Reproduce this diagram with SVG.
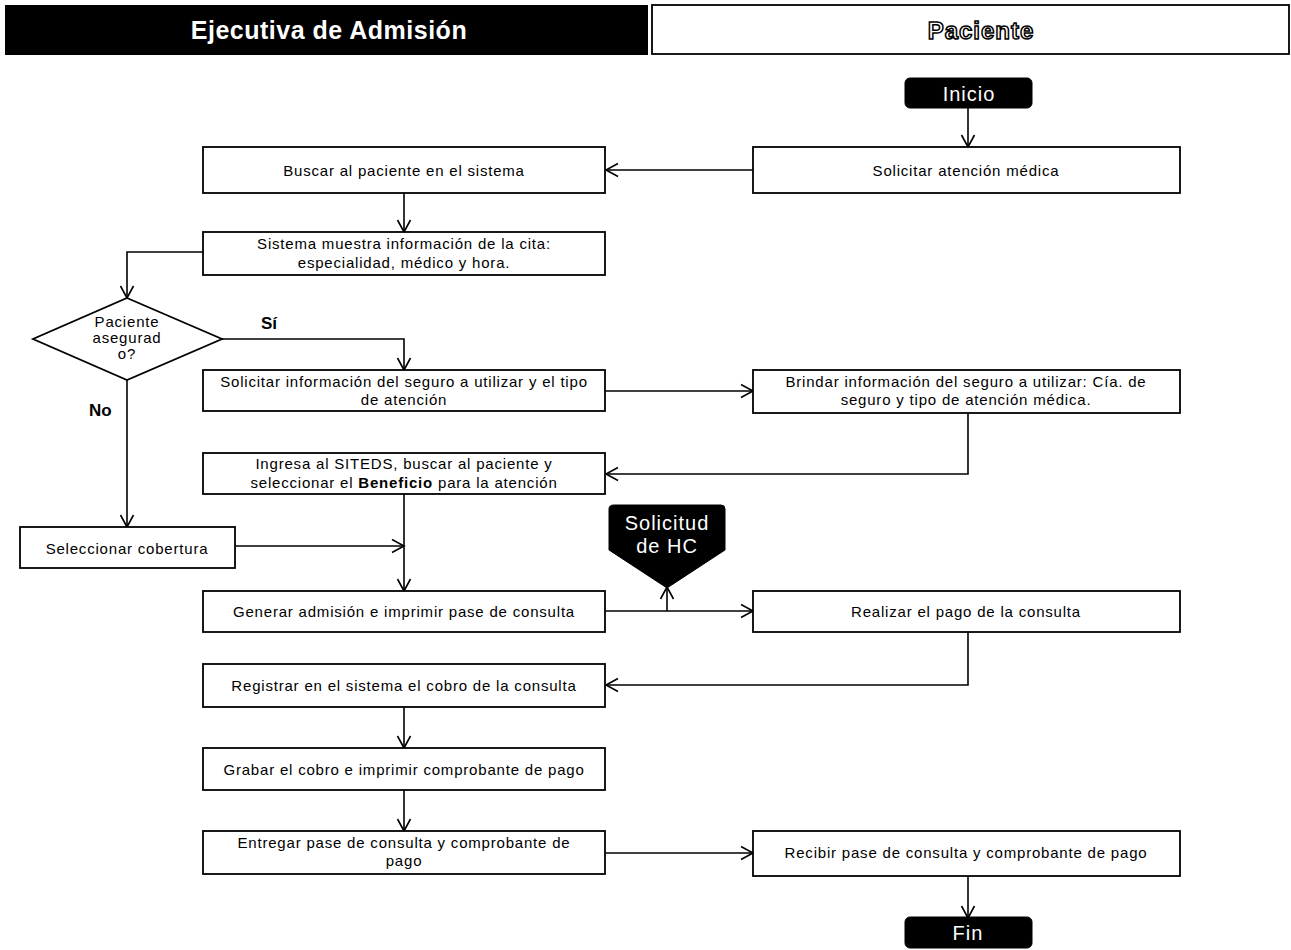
<svg xmlns="http://www.w3.org/2000/svg" width="1291" height="950" viewBox="0 0 1291 950">
  <style>
    .box { fill: #fff; stroke: #000; stroke-width: 1.8; }
    .term { fill: #000; stroke: #000; }
    .t { font-family: "Liberation Sans", Arial, sans-serif; font-size: 15px; letter-spacing: 0.8px; fill: #000; text-anchor: middle; }
    .tw { font-family: "Liberation Sans", Arial, sans-serif; font-size: 20px; letter-spacing: 1px; fill: #fff; text-anchor: middle; }
    .lbl { font-family: "Liberation Sans", Arial, sans-serif; font-size: 17px; font-weight: bold; fill: #000; }
    .edge { fill: none; stroke: #000; stroke-width: 1.6; marker-end: url(#arrow); }
  </style>
  <defs>
    <marker id="arrow" markerUnits="userSpaceOnUse" markerWidth="16" markerHeight="16" viewBox="0 0 16 16" refX="14" refY="8" orient="auto">
      <path d="M2,1.5 L14,8 L2,14.5" fill="none" stroke="#000" stroke-width="1.6"/>
    </marker>
  </defs>

  <rect width="1291" height="950" fill="#fff"/>

  <!-- Lane headers -->
  <g id="lane-ejecutiva">
    <rect x="5" y="5" width="643" height="50" fill="#000"/>
    <text x="329" y="39" font-family="Liberation Sans, Arial, sans-serif" font-size="25" font-weight="bold" letter-spacing="0.5" fill="#fff" text-anchor="middle">Ejecutiva de Admisión</text>
  </g>
  <g id="lane-paciente">
    <rect x="652" y="5" width="637" height="49" fill="#fff" stroke="#000" stroke-width="1.8"/>
    <text x="981" y="39" font-family="Liberation Sans, Arial, sans-serif" font-size="24" font-weight="bold" letter-spacing="1" fill="#fff" stroke="#000" stroke-width="1.5" text-anchor="middle">Paciente</text>
  </g>

  <!-- Connectors -->
  <g id="connectors">
    <path class="edge" d="M968,108 V147"/>
    <path class="edge" d="M753,170 H606"/>
    <path class="edge" d="M404,193 V232"/>
    <path class="edge" d="M203,252 H127 V298"/>
    <path class="edge" d="M222,339 H404 V370"/>
    <path class="edge" d="M605,391 H753"/>
    <path class="edge" d="M968,413 V474 H606"/>
    <path class="edge" d="M127,380 V527"/>
    <path class="edge" d="M404,494 V591"/>
    <path class="edge" d="M235,546 H404"/>
    <path class="edge" d="M605,611 H753"/>
    <path class="edge" d="M667,611 V587"/>
    <path class="edge" d="M968,632 V685 H606"/>
    <path class="edge" d="M404,707 V748"/>
    <path class="edge" d="M404,790 V831"/>
    <path class="edge" d="M605,853 H753"/>
    <path class="edge" d="M968,876 V918"/>
    <text class="lbl" x="261" y="329">Sí</text>
    <text class="lbl" x="89" y="416">No</text>
  </g>

  <!-- Nodes -->
  <g id="inicio">
    <rect class="term" x="905" y="78" width="127" height="30" rx="5"/>
    <text class="tw" x="969" y="101">Inicio</text>
  </g>

  <g id="buscar">
    <rect class="box" x="203" y="147" width="402" height="46"/>
    <text class="t" x="404" y="176">Buscar al paciente en el sistema</text>
  </g>

  <g id="solicitar-atencion">
    <rect class="box" x="753" y="147" width="427" height="46"/>
    <text class="t" x="966" y="176">Solicitar atención médica</text>
  </g>

  <g id="sistema-muestra">
    <rect class="box" x="203" y="232" width="402" height="43"/>
    <text class="t" x="404" y="249">Sistema muestra información de la cita:</text>
    <text class="t" x="404" y="268">especialidad, médico y hora.</text>
  </g>

  <g id="decision-asegurado">
    <polygon class="box" points="127,298 222,339 127,380 33,339"/>
    <text class="t" x="127" y="327" font-size="13" letter-spacing="0.5">Paciente</text>
    <text class="t" x="127" y="343" font-size="13" letter-spacing="0.5">asegurad</text>
    <text class="t" x="127" y="359" font-size="13" letter-spacing="0.5">o?</text>
  </g>

  <g id="solicitar-seguro">
    <rect class="box" x="203" y="370" width="402" height="41"/>
    <text class="t" x="404" y="387">Solicitar información del seguro a utilizar  y el tipo</text>
    <text class="t" x="404" y="405">de atención</text>
  </g>

  <g id="brindar-seguro">
    <rect class="box" x="753" y="370" width="427" height="43"/>
    <text class="t" x="966" y="387">Brindar información del seguro a utilizar: Cía.  de</text>
    <text class="t" x="966" y="405">seguro y tipo de atención médica.</text>
  </g>

  <g id="ingresa-siteds">
    <rect class="box" x="203" y="453" width="402" height="41"/>
    <text class="t" x="404" y="469">Ingresa al SITEDS,  buscar al paciente y</text>
    <text class="t" x="404" y="488">seleccionar el <tspan font-weight="bold">Beneficio</tspan>  para la atención</text>
  </g>

  <g id="seleccionar-cobertura">
    <rect class="box" x="20" y="527" width="215" height="41"/>
    <text class="t" x="127" y="554">Seleccionar cobertura</text>
  </g>

  <g id="solicitud-hc">
    <path class="term" d="M614,505 H721 Q725,505 725,509 V550 L667,588 L609,550 V509 Q609,505 614,505 Z"/>
    <text class="tw" x="667" y="530">Solicitud</text>
    <text class="tw" x="667" y="553">de HC</text>
  </g>

  <g id="generar-admision">
    <rect class="box" x="203" y="591" width="402" height="41"/>
    <text class="t" x="404" y="617">Generar  admisión e imprimir pase de consulta</text>
  </g>

  <g id="realizar-pago">
    <rect class="box" x="753" y="591" width="427" height="41"/>
    <text class="t" x="966" y="617">Realizar  el pago de la consulta</text>
  </g>

  <g id="registrar-cobro">
    <rect class="box" x="203" y="664" width="402" height="43"/>
    <text class="t" x="404" y="691">Registrar en el sistema el cobro de la consulta</text>
  </g>

  <g id="grabar-cobro">
    <rect class="box" x="203" y="748" width="402" height="42"/>
    <text class="t" x="404" y="775">Grabar el cobro e imprimir comprobante de pago</text>
  </g>

  <g id="entregar-pase">
    <rect class="box" x="203" y="831" width="402" height="43"/>
    <text class="t" x="404" y="848">Entregar pase de consulta y comprobante de</text>
    <text class="t" x="404" y="866">pago</text>
  </g>

  <g id="recibir-pase">
    <rect class="box" x="753" y="831" width="427" height="45"/>
    <text class="t" x="966" y="858">Recibir pase de consulta y comprobante de pago</text>
  </g>

  <g id="fin">
    <rect class="term" x="905" y="917" width="127" height="31" rx="5"/>
    <text class="tw" x="968" y="940">Fin</text>
  </g>
</svg>
